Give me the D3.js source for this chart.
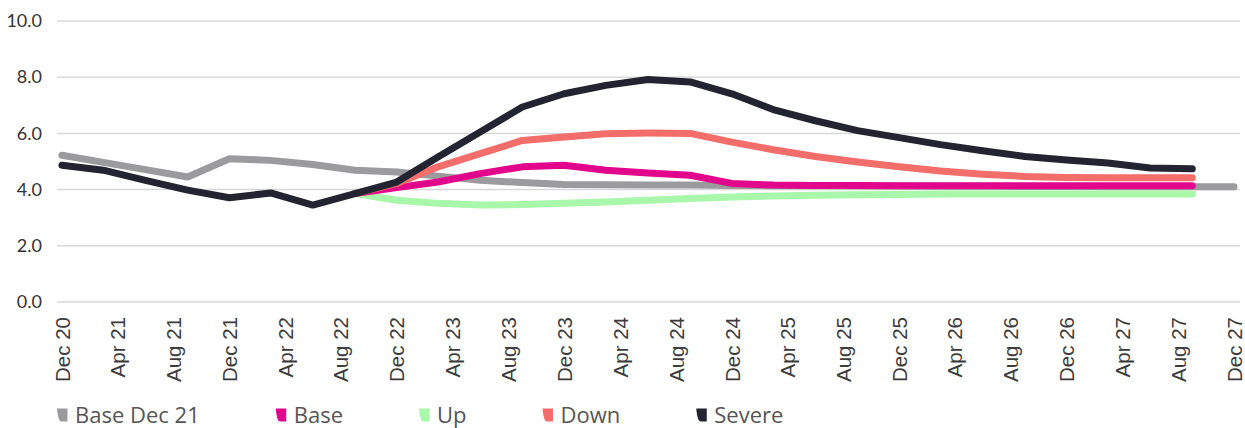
<!DOCTYPE html>
<html>
<head>
<meta charset="utf-8">
<script src="https://cdn.jsdelivr.net/npm/d3@7"></script>
<style>
  html, body { margin: 0; padding: 0; background: #ffffff; }
  svg { display: block; }
</style>
</head>
<body>
<svg id="chart" width="1245" height="428"></svg>
<script>
// Quarterly observation dates
const quarters = [
  "Dec 20", "Mar 21", "Jun 21", "Sep 21", "Dec 21", "Mar 22", "Jun 22", "Sep 22",
  "Dec 22", "Mar 23", "Jun 23", "Sep 23", "Dec 23", "Mar 24", "Jun 24", "Sep 24",
  "Dec 24", "Mar 25", "Jun 25", "Sep 25", "Dec 25", "Mar 26", "Jun 26", "Sep 26",
  "Dec 26", "Mar 27", "Jun 27", "Sep 27", "Dec 27"
];

// Axis tick labels (every four months)
const tickLabels = [
  "Dec 20", "Apr 21", "Aug 21", "Dec 21", "Apr 22", "Aug 22", "Dec 22", "Apr 23",
  "Aug 23", "Dec 23", "Apr 24", "Aug 24", "Dec 24", "Apr 25", "Aug 25", "Dec 25",
  "Apr 26", "Aug 26", "Dec 26", "Apr 27", "Aug 27", "Dec 27"
];
const yTicks = [0, 2, 4, 6, 8, 10];

// Series values (%), one per quarter; null where a series has no value
const baseDec21 = [5.22, 4.97, 4.71, 4.45, 5.10, 5.04, 4.89, 4.69, 4.63, 4.48, 4.33, 4.25, 4.18, 4.17, 4.16, 4.16,
                   4.15, 4.14, 4.14, 4.13, 4.13, 4.12, 4.12, 4.11, 4.11, 4.10, 4.10, 4.10, 4.10];
const base   = [null, null, null, null, null, null, null, 3.86, 4.07, 4.27, 4.57, 4.81, 4.87, 4.69, 4.59, 4.51,
                4.22, 4.16, 4.15, 4.15, 4.14, 4.14, 4.14, 4.14, 4.14, 4.14, 4.14, 4.14];
const up     = [null, null, null, null, null, null, null, 3.86, 3.62, 3.51, 3.45, 3.47, 3.51, 3.56, 3.62, 3.68,
                3.74, 3.77, 3.80, 3.82, 3.83, 3.84, 3.84, 3.84, 3.84, 3.84, 3.84, 3.84];
const down   = [null, null, null, null, null, null, null, 3.86, 4.22, 4.81, 5.28, 5.75, 5.87, 5.99, 6.01, 6.00,
                5.69, 5.42, 5.18, 4.98, 4.81, 4.66, 4.55, 4.47, 4.43, 4.42, 4.42, 4.42];
const severe = [4.87, 4.69, 4.33, 3.98, 3.71, 3.88, 3.45, 3.86, 4.27, 5.16, 6.05, 6.94, 7.41, 7.71, 7.92, 7.83,
                7.41, 6.85, 6.45, 6.10, 5.85, 5.60, 5.38, 5.18, 5.05, 4.95, 4.77, 4.74];

const seriesNames  = ["Base Dec 21", "Base", "Up", "Down", "Severe"];
const seriesColors = ["#9b9b9d", "#e2068c", "#a9f7aa", "#f36d6b", "#222531"];
const seriesValues = [baseDec21, base, up, down, severe];

// Drawing order: lines further down the list paint on top
const drawOrder = [0, 2, 1, 3, 4];

const parse = d3.timeParse("%b %y");
const svg = d3.select("#chart");

const x = d3.scaleTime()
  .domain([parse(tickLabels[0]), parse(tickLabels[tickLabels.length - 1])])
  .range([62, 1234]);
const y = d3.scaleLinear().domain([0, 10]).range([302, 21]);

// Horizontal gridlines
svg.append("g")
  .selectAll("line")
  .data(yTicks)
  .join("line")
  .attr("x1", 57).attr("x2", 1240)
  .attr("y1", d => y(d)).attr("y2", d => y(d))
  .attr("stroke", "#d8d8d8")
  .attr("stroke-width", 1.5);

// Y axis labels
const yAxis = d3.axisLeft(y).tickValues(yTicks).tickFormat(d3.format(".1f")).tickSize(0).tickPadding(0);
svg.append("g")
  .attr("transform", "translate(42,0)")
  .call(yAxis)
  .call(g => g.select(".domain").remove())
  .call(g => g.selectAll("text")
    .attr("font-family", "Lato, 'Open Sans', sans-serif")
    .attr("font-size", 18)
    .attr("fill", "#333333"));

// X axis labels, rotated
const xAxis = d3.axisBottom(x)
  .tickValues(tickLabels.map(parse))
  .tickFormat((d, i) => tickLabels[i])
  .tickSize(0).tickPadding(0);
svg.append("g")
  .attr("transform", "translate(0,302)")
  .call(xAxis)
  .call(g => g.select(".domain").remove())
  .call(g => g.selectAll("text")
    .attr("font-family", "'Liberation Sans', Arial, sans-serif")
    .attr("font-size", 20.5)
    .attr("fill", "#3c3c3c")
    .attr("text-anchor", "end")
    .attr("transform", "rotate(-90)")
    .attr("x", -15)
    .attr("y", 0)
    .attr("dy", "0.35em"));

// Lines
const line = d3.line()
  .defined(d => d.v != null)
  .x(d => x(d.date))
  .y(d => y(d.v));

const lineG = svg.append("g");
drawOrder.forEach(k => {
  const pts = seriesValues[k].map((v, i) => ({ date: parse(quarters[i]), v }));
  lineG.append("path")
    .datum(pts)
    .attr("d", line)
    .attr("fill", "none")
    .attr("stroke", seriesColors[k])
    .attr("stroke-width", 7)
    .attr("stroke-linejoin", "round")
    .attr("stroke-linecap", "round");
});

// Legend
const legend = svg.append("g").attr("transform", "translate(0,415)");
let lx = 57;
seriesNames.forEach((name, k) => {
  const item = legend.append("g").attr("transform", `translate(${lx},0)`);
  item.append("path")
    .attr("d", "M0,-6.5 H10.5 V6.5 H4.5 C2,6.5 0.8,2 0,-6.5 Z")
    .attr("fill", seriesColors[k]);
  const t = item.append("text")
    .attr("x", 18)
    .attr("dy", "0.35em")
    .attr("font-family", "'Open Sans', Lato, sans-serif")
    .attr("font-size", 22)
    .attr("fill", "#555555")
    .text(name);
  lx += 18 + t.node().getComputedTextLength() + 76;
});
</script>
</body>
</html>
